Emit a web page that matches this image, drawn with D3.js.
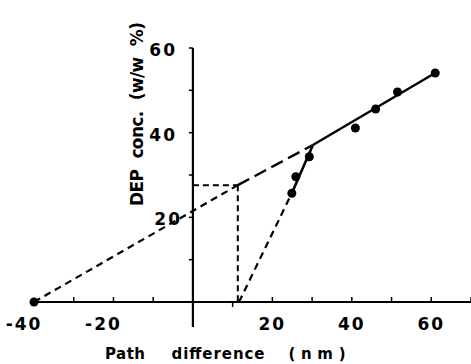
<!DOCTYPE html>
<html>
<head>
<meta charset="utf-8">
<script src="https://cdn.jsdelivr.net/npm/d3@7"></script>
<style>
  body { margin: 0; background: #fff; }
  text { font-family: "DejaVu Sans", sans-serif; font-weight: bold; fill: #000; }
</style>
</head>
<body>
<div id="chart"></div>
<script>
// measured points (path difference nm, DEP conc w/w %)
const pathDiff = [-40, 24.9, 25.9, 29.3, 40.9, 46.0, 51.5, 61.0];
const depConc  = [0, 25.7, 29.6, 34.3, 41.1, 45.6, 49.6, 54.1];

// fitted lines
const breakPt = [30.2, 37.1];
const crossPt = [11.3, 27.6];
const shallowEnd = [61.5, 54.4];
const steepStart = [11.6, 0];
const steepLow = [24.9, 25.7];

const xTicks = [-30, -20, -10, 10, 20, 30, 40, 50, 60, 70];
const xLabels = [-40, -20, 20, 40, 60];
const yTicks = [10, 20, 30, 40, 50, 60];
const yLabels = [20, 40, 60];

// x title words: [text, centre, width]
const xTitleWords = [["Path", 125, 40], ["difference", 218, 93], ["(nm)", 317, 57]];

const width = 471, height = 364;

const svg = d3.select("#chart").append("svg")
  .attr("width", width)
  .attr("height", height);

const x = d3.scaleLinear().domain([-40, 70]).range([34, 471]);
const y = d3.scaleLinear().domain([0, 60]).range([302, 48]);

// axes lines
svg.append("line")
  .attr("x1", x(-40) - 2).attr("x2", width)
  .attr("y1", y(0)).attr("y2", y(0))
  .attr("stroke", "#000").attr("stroke-width", 2);
svg.append("line")
  .attr("x1", x(0)).attr("x2", x(0))
  .attr("y1", y(60)).attr("y2", y(0) + 25)
  .attr("stroke", "#000").attr("stroke-width", 2.2);

// x ticks (upwards)
svg.append("g").selectAll("line")
  .data(xTicks)
  .enter().append("line")
    .attr("x1", d => x(d)).attr("x2", d => x(d))
    .attr("y1", y(0)).attr("y2", d => d === 10 ? y(0) + 5 : y(0) - 5)
    .attr("stroke", "#000").attr("stroke-width", 1.5);

svg.append("g").selectAll("text")
  .data(xLabels)
  .enter().append("text")
    .attr("x", d => d < 0 ? x(d) - 10 : x(d))
    .attr("y", 330)
    .attr("text-anchor", "middle")
    .attr("font-size", 17)
    .attr("letter-spacing", 2)
    .text(d => d < 0 ? "-" + Math.abs(d) : d);

// y ticks (left)
svg.append("g").selectAll("line")
  .data(yTicks)
  .enter().append("line")
    .attr("x1", x(0) - 4).attr("x2", x(0))
    .attr("y1", d => y(d)).attr("y2", d => y(d))
    .attr("stroke", "#000").attr("stroke-width", 1.5);

svg.append("g").selectAll("text")
  .data(yLabels)
  .enter().append("text")
    .attr("x", d => d === 20 ? 182 : 177)
    .attr("y", d => y(d) + 8)
    .attr("text-anchor", "end")
    .attr("font-size", 17)
    .attr("letter-spacing", 2)
    .text(d => d);

// axis titles
svg.append("g").selectAll("text")
  .data(xTitleWords)
  .enter().append("text")
    .attr("x", d => d[1] - d[2] / 2)
    .attr("y", 359)
    .attr("font-size", 15)
    .attr("textLength", d => d[2])
    .attr("lengthAdjust", "spacing")
    .text(d => d[0]);

svg.append("text")
  .attr("transform", "translate(143,206) rotate(-90)")
  .attr("font-size", 17)
  .attr("textLength", 184)
  .attr("lengthAdjust", "spacing")
  .attr("word-spacing", 6)
  .text("DEP conc. (w/w %)");

const line = d3.line().x(d => x(d[0])).y(d => y(d[1]));

function seg(pts, dash, w) {
  svg.append("path")
    .attr("d", line(pts))
    .attr("fill", "none")
    .attr("stroke", "#000")
    .attr("stroke-width", w)
    .attr("stroke-dasharray", dash);
}

// guide lines to the intersection
seg([[0, crossPt[1]], crossPt], "6,4", 2);
seg([crossPt, [crossPt[0], 0]], "6,4", 2);

// shallow line
seg([[pathDiff[0], depConc[0]], crossPt], "7,5", 2.2);
seg([crossPt, breakPt], "13,6", 2.4);
seg([breakPt, shallowEnd], null, 2.4);

// steep line
seg([steepStart, steepLow], "7,5", 2.2);
seg([steepLow, breakPt], null, 2.6);

// points
svg.append("g").selectAll("circle")
  .data(pathDiff.map((d, i) => [d, depConc[i]]))
  .enter().append("circle")
    .attr("cx", d => x(d[0]))
    .attr("cy", d => y(d[1]))
    .attr("r", 4.5)
    .attr("fill", "#000");
</script>
</body>
</html>
